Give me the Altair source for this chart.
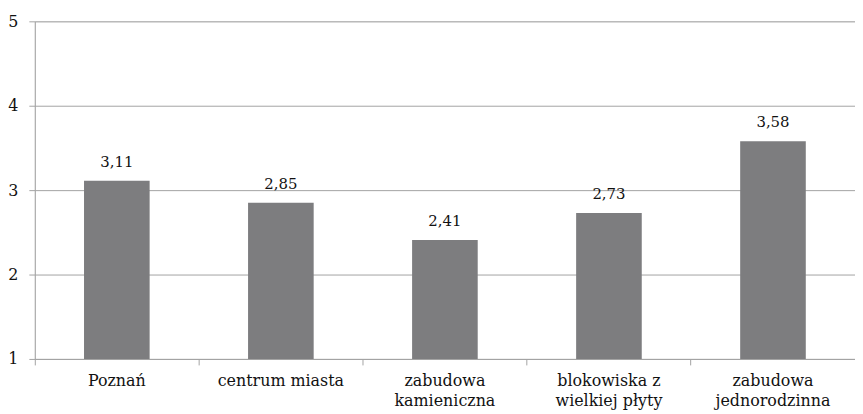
import altair as alt
import pandas as pd

categories = ["Poznań", "centrum miasta", "zabudowa\nkamieniczna", "blokowiska z\nwielkiej płyty", "zabudowa\njednorodzinna"]
values = [3.11, 2.85, 2.41, 2.73, 3.58]
y_ticks = [1, 2, 3, 4, 5]

df = pd.DataFrame({"cat": categories, "v": values})

FONT = "DejaVu Serif"
GRAY = "#a3a3a3"

x = alt.X("cat:N", sort=categories, title=None,
          scale=alt.Scale(paddingInner=0, paddingOuter=0),
          axis=alt.Axis(labelAngle=0, bandPosition=0,
                        labelFont=FONT, labelFontSize=16, labelColor="#111",
                        labelLineHeight=20, labelPadding=8, labelBaseline="top",
                        tickColor=GRAY, tickSize=6, domainColor=GRAY,
                        labelExpr="split(datum.label, '\\n')"))
y = alt.Y("v:Q", title=None,
          scale=alt.Scale(domain=[1, 5], zero=False, nice=False),
          axis=alt.Axis(values=y_ticks, grid=True, gridColor=GRAY, gridWidth=1,
                        domainColor=GRAY, tickColor=GRAY, tickSize=6,
                        labelFont=FONT, labelFontSize=16, labelColor="#111",
                        labelPadding=11, format="d"))

bars = alt.Chart(df).mark_bar(color="#7d7d7f", width=alt.RelativeBandSize(0.4)).encode(
    x=x, y=y, y2=alt.datum(1))
text = alt.Chart(df).transform_calculate(
    lbl="replace(format(datum.v, '.2f'), '.', ',')"
).mark_text(font=FONT, fontSize=15, dy=-14, color="#111", baseline="alphabetic").encode(
    x=alt.X("cat:N", sort=categories), y=alt.Y("v:Q"), text="lbl:N")

chart = (bars + text).properties(
    width=826, height=340,
    padding={"left": 27, "top": 12, "right": 0, "bottom": 50},
    autosize=alt.AutoSizeParams(type="none"),
).configure_view(stroke=None).configure(background="white")

chart.save("out.html", embed_options={"renderer": "svg", "actions": False})
